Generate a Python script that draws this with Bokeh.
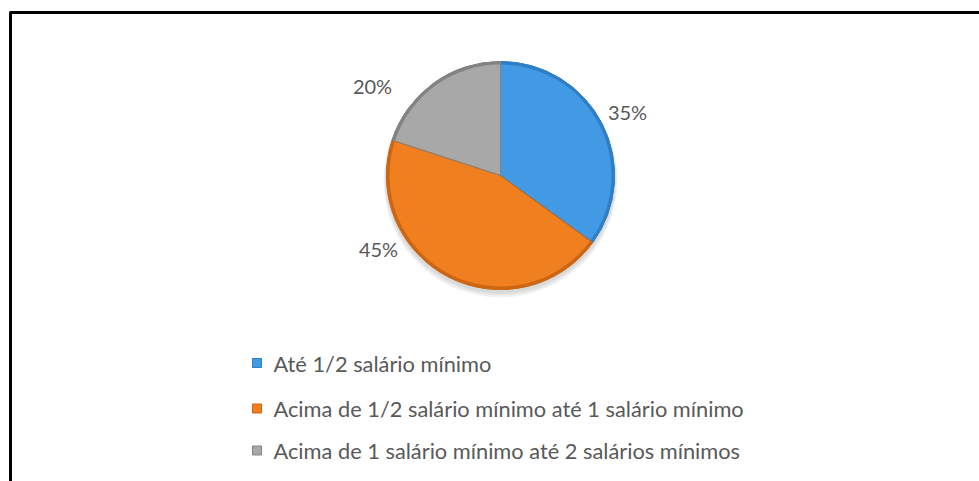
import numpy as np
from bokeh.plotting import figure
from bokeh.models import Range1d
from bokeh.core.properties import value
from bokeh.embed import file_html
from bokeh.resources import INLINE

categories = ["Até 1/2 salário mínimo",
              "Acima de 1/2 salário mínimo até 1 salário mínimo",
              "Acima de 1 salário mínimo até 2 salários mínimos"]
shares = [35, 45, 20]
labels = ["35%", "45%", "20%"]
colors = ["#4299E4", "#F07F20", "#A8A8A8"]
edge_colors = ["#2F7FC6", "#CC6612", "#838383"]

W, H = 979, 481
p = figure(width=W, height=H, output_backend="svg", toolbar_location=None,
           x_range=Range1d(0, W), y_range=Range1d(0, H), min_border=0)
p.axis.visible = False
p.grid.visible = False
p.outline_line_color = None
p.background_fill_color = "white"

cx, cy, r = 500, H - 175, 114

# soft shadow
for k in range(3):
    p.circle(x=[cx], y=[cy - 3 - k], radius=r + 1 + k, fill_color="#000000",
             fill_alpha=0.05, line_color=None)

frac = np.array(shares, dtype=float) / sum(shares)
ends = np.pi / 2 - 2 * np.pi * np.cumsum(frac)
starts = np.concatenate([[np.pi / 2], ends[:-1]])

# dark outer bevel then lighter face
p.wedge(x=cx, y=cy, radius=r, start_angle=ends, end_angle=starts,
        fill_color=edge_colors, line_color=edge_colors, line_width=1)
p.wedge(x=cx, y=cy, radius=r - 3, start_angle=ends, end_angle=starts,
        fill_color=colors, line_color=None)
p.wedge(x=cx, y=cy, radius=r, start_angle=ends, end_angle=starts,
        fill_color=None, line_color=edge_colors, line_width=1)

# percentage labels (best-fit positions, screen px)
lab_x = [627, 378, 372]
lab_y = [H - 111, H - 248, H - 85]
p.text(x=lab_x, y=lab_y, text=labels, text_align="center", text_baseline="middle",
       text_font=value("Lato"), text_font_size="20px", text_color="#595959")

# legend
leg_y = [H - 362.5, H - 408, H - 450]
p.scatter(x=[256.5] * 3, y=leg_y, marker="square", size=9,
          fill_color=colors, line_color=edge_colors, line_width=1)
p.text(x=[273] * 3, y=leg_y, text=categories, text_align="left",
       text_baseline="middle", text_font=value("Lato"),
       text_font_size="21.8px", text_color="#595959")

# border lines (top and left)
p.line(x=[9, W], y=[H - 12, H - 12], line_color="black", line_width=3)
p.line(x=[10, 10], y=[0, H - 12], line_color="black", line_width=3)

open("out.html", "w").write(file_html(p, INLINE))
